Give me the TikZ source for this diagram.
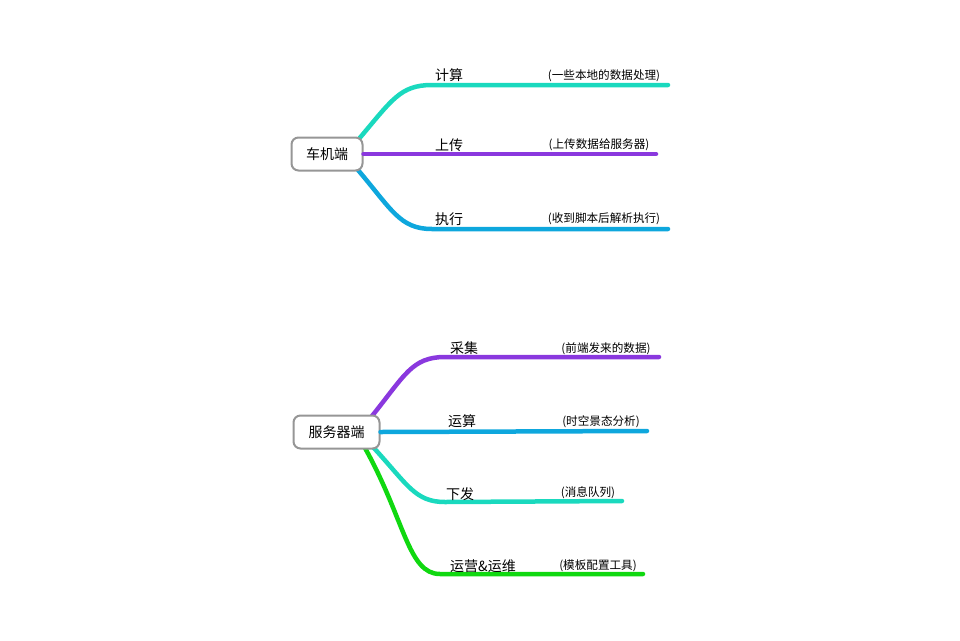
\documentclass[tikz,border=0pt]{standalone}
\usepackage{fontspec}
\setmainfont{Noto Sans CJK SC}
\definecolor{cteal}{RGB}{26,217,190}
\definecolor{cpurple}{RGB}{138,56,222}
\definecolor{cblue}{RGB}{14,167,221}
\definecolor{cgreen}{RGB}{16,216,16}
\definecolor{cgray}{RGB}{150,150,150}
\begin{document}
\begin{tikzpicture}[x=1pt,y=-1pt,
  rootbox/.style={draw=cgray,line width=2pt,rounded corners=7pt,fill=white,minimum width=71pt,minimum height=33pt,font=\fontsize{14}{16}\selectfont,inner sep=0pt},
  branch/.style={line width=4.5pt,line cap=round},
  lbl/.style={font=\fontsize{14}{16}\selectfont,inner sep=0pt},
  note/.style={font=\fontsize{11.6}{13}\selectfont,inner sep=0pt}]
\useasboundingbox (0,0) rectangle (960,640);
% root 1
\coordinate (e1) at (668,85);
\coordinate (e2) at (656,154);
\coordinate (e3) at (668,229);
\draw[branch,cteal] (358,140) .. controls (392,100) and (400,85) .. (432,85) -- (e1);
\draw[branch,cblue] (358,170) .. controls (392,210) and (400,229) .. (432,229) -- (e3);
\node[rootbox] (r1) at (327,154) {车机端};
\draw[branch,cpurple] (r1.east) -- (e2);
\node[lbl] (l1) at (449,75) {计算};
\node[lbl] (l2) at (449,145) {上传};
\node[lbl] (l3) at (449,219) {执行};
\node[note] (n1) at (604,76) {(一些本地的数据处理)};
\node[note] (n2) at (599,145) {(上传数据给服务器)};
\node[note] (n3) at (604,219) {(收到脚本后解析执行)};
% root 2
\coordinate (f1) at (659,357);
\coordinate (f2) at (647,431);
\coordinate (f3) at (622,501);
\coordinate (f4) at (643,574);
\draw[branch,cpurple] (372,416) .. controls (405,375) and (412,357) .. (445,357) -- (f1);
\draw[branch,cteal] (373,447) .. controls (408,485) and (415,502) .. (445,502) -- (f3);
\draw[branch,cgreen] (365,448) .. controls (405,520) and (408,574) .. (440,574) -- (f4);
\node[rootbox,minimum width=86pt] (r2) at (336.5,432) {服务器端};
\draw[branch,cblue] (r2.east) -- (f2);
\node[lbl] (m1) at (464,348) {采集};
\node[lbl] (m2) at (462,421) {运算};
\node[lbl] (m3) at (460,494) {下发};
\node[lbl] (m4) at (483,566) {运营\&运维};
\node[note] (o1) at (606,349) {(前端发来的数据)};
\node[note] (o2) at (601,422) {(时空景态分析)};
\node[note] (o3) at (588,493) {(消息队列)};
\node[note] (o4) at (598,566) {(模板配置工具)};
\end{tikzpicture}
\end{document}
